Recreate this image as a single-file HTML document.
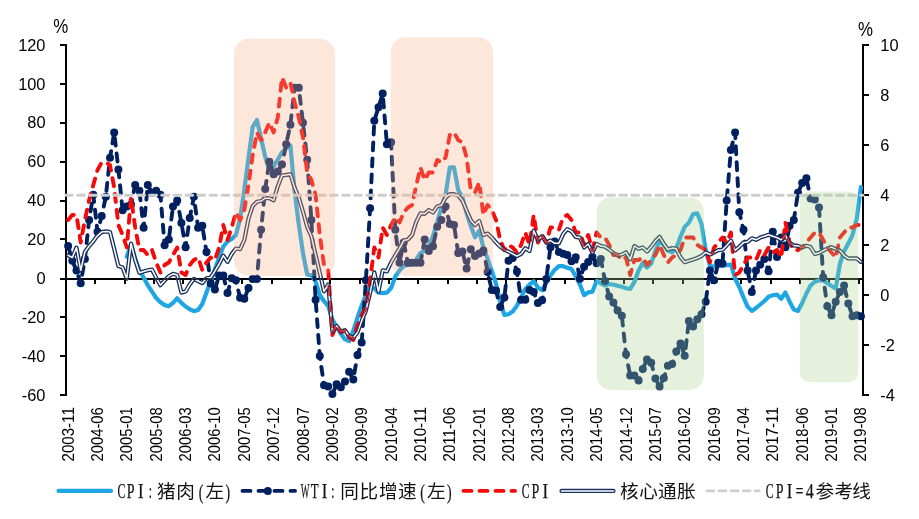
<!DOCTYPE html>
<html lang="zh"><head><meta charset="utf-8"><title>CPI / WTI chart</title>
<style>html,body{margin:0;padding:0;background:#fff}body{width:919px;height:519px;overflow:hidden;font-family:"Liberation Sans",sans-serif}svg{will-change:transform}</style></head>
<body>
<svg width="919" height="519" viewBox="0 0 919 519" style="display:block">
<rect width="919" height="519" fill="#fff"/>
<g stroke="#000" stroke-width="2" fill="none" shape-rendering="crispEdges">
<line x1="66" y1="44" x2="66" y2="396"/>
<line x1="863" y1="44" x2="863" y2="396"/>
<line x1="60" y1="279" x2="864" y2="279"/>
<line x1="60" y1="45" x2="66" y2="45"/>
<line x1="60" y1="84" x2="66" y2="84"/>
<line x1="60" y1="123" x2="66" y2="123"/>
<line x1="60" y1="162" x2="66" y2="162"/>
<line x1="60" y1="201" x2="66" y2="201"/>
<line x1="60" y1="239" x2="66" y2="239"/>
<line x1="60" y1="317" x2="66" y2="317"/>
<line x1="60" y1="356" x2="66" y2="356"/>
<line x1="60" y1="395" x2="66" y2="395"/>
<line x1="863" y1="45" x2="869" y2="45"/>
<line x1="863" y1="95" x2="869" y2="95"/>
<line x1="863" y1="145" x2="869" y2="145"/>
<line x1="863" y1="195" x2="869" y2="195"/>
<line x1="863" y1="245" x2="869" y2="245"/>
<line x1="863" y1="295" x2="869" y2="295"/>
<line x1="863" y1="345" x2="869" y2="345"/>
<line x1="863" y1="395" x2="869" y2="395"/>
<line x1="95" y1="279" x2="95" y2="284"/>
<line x1="125" y1="279" x2="125" y2="284"/>
<line x1="154" y1="279" x2="154" y2="284"/>
<line x1="183" y1="279" x2="183" y2="284"/>
<line x1="213" y1="279" x2="213" y2="284"/>
<line x1="242" y1="279" x2="242" y2="284"/>
<line x1="272" y1="279" x2="272" y2="284"/>
<line x1="301" y1="279" x2="301" y2="284"/>
<line x1="330" y1="279" x2="330" y2="284"/>
<line x1="360" y1="279" x2="360" y2="284"/>
<line x1="389" y1="279" x2="389" y2="284"/>
<line x1="418" y1="279" x2="418" y2="284"/>
<line x1="448" y1="279" x2="448" y2="284"/>
<line x1="477" y1="279" x2="477" y2="284"/>
<line x1="506" y1="279" x2="506" y2="284"/>
<line x1="536" y1="279" x2="536" y2="284"/>
<line x1="565" y1="279" x2="565" y2="284"/>
<line x1="595" y1="279" x2="595" y2="284"/>
<line x1="624" y1="279" x2="624" y2="284"/>
<line x1="653" y1="279" x2="653" y2="284"/>
<line x1="683" y1="279" x2="683" y2="284"/>
<line x1="712" y1="279" x2="712" y2="284"/>
<line x1="741" y1="279" x2="741" y2="284"/>
<line x1="771" y1="279" x2="771" y2="284"/>
<line x1="800" y1="279" x2="800" y2="284"/>
<line x1="829" y1="279" x2="829" y2="284"/>
<line x1="859" y1="279" x2="859" y2="284"/>
</g>
<g fill="none" stroke-linejoin="round">
<polyline points="126.8,256.8 131.0,244.8 135.2,258.4 139.4,270.4 143.6,277.5 147.8,285.3 152.0,291.6 156.2,298.0 160.4,302.2 164.6,305.1 168.8,306.2 173.0,302.9 177.2,298.3 181.4,302.9 185.6,306.5 189.7,309.3 193.9,311.1 198.1,310.0 202.3,304.0 206.5,292.5 210.7,281.0 214.9,269.5 219.1,257.5 223.3,246.5 227.5,241.5 231.7,239.0 235.9,235.0 240.1,219.0 244.3,190.0 248.5,158.0 252.7,127.0 256.9,120.0 261.1,138.3 265.2,156.7 269.4,170.8 273.6,166.6 277.8,159.5 282.0,152.4 286.2,148.2 290.4,145.4 294.6,191.0 298.8,224.4 303.0,253.3 307.2,274.5 311.4,275.2 315.6,281.6 319.8,295.0 324.0,301.2 328.2,306.2 332.4,319.6 336.6,326.7 340.8,333.7 345.0,339.4 349.1,341.1 353.3,330.9 357.5,317.5 361.7,305.5 365.9,294.9 370.1,286.4 374.3,288.5 378.5,292.6 382.7,293.2 386.9,292.6 391.1,288.0 395.3,276.5 399.5,270.5 403.7,266.0 407.9,265.0 412.1,264.5 416.3,259.5 420.5,253.0 424.7,250.5 428.8,247.0 433.0,236.0 437.2,222.0 441.4,207.5 445.6,194.5 449.8,167.4 454.0,167.4 458.2,190.0 462.4,197.0 466.6,213.3 470.8,226.0 475.0,237.3 479.2,231.0 483.4,247.2 487.6,259.0 491.8,271.0 496.0,283.5 500.2,301.6 504.4,315.0 508.5,314.3 512.7,311.5 516.9,305.8 521.1,297.4 525.3,288.9 529.5,284.6 533.7,281.1 537.9,287.5 542.1,290.3 546.3,282.5 550.5,275.4 554.7,269.8 558.9,266.2 563.1,266.2 567.3,267.7 571.5,269.0 575.7,276.1 579.9,284.6 584.1,295.2 588.2,292.4 592.4,291.7 596.6,281.0 600.8,283.3 605.0,285.4 609.2,284.0 613.4,284.7 617.6,285.8 621.8,286.8 626.0,288.2 630.2,289.0 634.4,281.9 638.6,270.6 642.8,263.0 647.0,267.5 651.2,263.5 655.4,250.9 659.6,241.0 663.8,245.3 667.9,250.6 672.1,252.3 676.3,248.1 680.5,236.8 684.7,226.9 688.9,222.6 693.1,214.1 697.3,213.4 701.5,224.0 705.7,250.0 709.9,266.0 714.1,266.6 718.3,265.9 722.5,265.6 726.7,265.2 730.9,264.7 735.1,278.5 739.3,287.0 743.5,297.4 747.6,306.6 751.8,310.9 756.0,308.0 760.2,304.5 764.4,301.0 768.6,296.7 772.8,295.3 777.0,294.6 781.2,298.8 785.4,292.5 789.6,301.7 793.8,309.5 798.0,310.9 802.2,303.0 806.4,293.5 810.6,285.5 814.8,281.7 819.0,280.4 823.2,280.4 827.3,283.3 831.5,286.0 835.7,288.5 839.9,264.0 844.1,251.3 848.3,243.6 852.5,235.0 856.7,219.0 860.9,187.0" stroke="#1EA6E4" stroke-width="4.2" stroke-linecap="round"/>
<polyline points="68.1,245.9 72.3,260.8 76.5,270.6 80.7,283.2 84.9,258.9 89.1,220.0 93.3,194.7 97.5,231.7 101.7,216.1 105.8,196.7 110.0,157.8 114.2,132.5 118.4,169.4 122.6,210.3 126.8,206.4 131.0,204.4 135.2,185.0 139.4,190.8 143.6,227.8 147.8,185.0 152.0,192.8 156.2,190.8 160.4,194.7 164.6,245.3 168.8,239.4 173.0,206.4 177.2,200.6 181.4,222.9 185.6,247.2 189.7,218.1 193.9,196.7 198.1,227.8 202.3,225.8 206.5,252.1 210.7,283.4 214.9,289.6 219.1,275.4 223.3,275.4 227.5,292.9 231.7,278.3 235.9,280.3 240.1,297.8 244.3,298.8 248.5,288.1 252.7,279.1 256.9,278.9 261.1,229.7 265.2,188.9 269.4,161.7 273.6,174.3 277.8,171.4 282.0,164.6 286.2,144.2 290.4,124.7 294.6,87.8 298.8,87.8 303.0,122.8 307.2,159.7 311.4,220.0 315.6,299.7 319.8,356.1 324.0,385.3 328.2,386.6 332.4,394.0 336.6,384.3 340.8,387.2 345.0,381.4 349.1,371.7 353.3,379.4 357.5,355.1 361.7,342.5 365.9,280.3 370.1,208.3 374.3,120.8 378.5,107.2 382.7,93.6 386.9,144.2 391.1,142.2 395.3,229.7 399.5,262.8 403.7,242.4 407.9,262.8 412.1,262.8 416.3,262.8 420.5,262.8 424.7,239.4 428.8,251.1 433.0,246.2 437.2,226.8 441.4,220.0 445.6,206.4 449.8,223.9 454.0,224.9 458.2,253.1 462.4,251.5 466.6,268.6 470.8,249.2 475.0,256.0 479.2,253.4 483.4,250.5 487.6,271.9 491.8,290.0 496.0,290.6 500.2,306.9 504.4,297.4 508.5,260.8 512.7,257.9 516.9,271.5 521.1,299.7 525.3,299.7 529.5,290.0 533.7,291.9 537.9,303.0 542.1,300.3 546.3,278.9 550.5,247.2 554.7,241.4 558.9,252.1 563.1,253.8 567.3,255.0 571.5,261.2 575.7,257.3 579.9,278.7 584.1,266.7 588.2,262.0 592.4,256.9 596.6,263.2 600.8,258.9 605.0,280.9 609.2,296.4 613.4,302.6 617.6,310.4 621.8,315.7 626.0,354.2 630.2,375.6 634.4,375.6 638.6,380.6 642.8,368.9 647.0,359.6 651.2,362.7 655.4,378.5 659.6,386.4 663.8,377.9 667.9,365.8 672.1,363.9 676.3,351.6 680.5,343.5 684.7,355.7 688.9,321.1 693.1,326.4 697.3,319.2 701.5,314.3 705.7,301.7 709.9,270.6 714.1,280.3 718.3,262.8 722.5,263.6 726.7,200.6 730.9,150.0 735.1,132.5 739.3,212.2 743.5,229.7 747.6,270.6 751.8,291.9 756.0,270.6 760.2,264.7 764.4,258.9 768.6,271.3 772.8,231.7 777.0,256.9 781.2,237.5 785.4,247.2 789.6,225.8 793.8,220.0 798.0,192.8 802.2,183.1 806.4,178.2 810.6,198.6 814.8,199.6 819.0,207.4 823.2,277.2 827.3,306.3 831.5,315.3 835.7,301.7 839.9,291.9 844.1,285.5 848.3,303.6 852.5,316.2 856.7,315.3 860.9,316.2" stroke="#002060" stroke-width="3.9" stroke-linecap="round" stroke-dasharray="8 8"/>
<g fill="#002060" stroke="none"><circle cx="68.1" cy="245.9" r="4.0"/><circle cx="72.3" cy="260.8" r="4.0"/><circle cx="76.5" cy="270.6" r="4.0"/><circle cx="80.7" cy="283.2" r="4.0"/><circle cx="84.9" cy="258.9" r="4.0"/><circle cx="89.1" cy="220.0" r="4.0"/><circle cx="93.3" cy="194.7" r="4.0"/><circle cx="97.5" cy="231.7" r="4.0"/><circle cx="101.7" cy="216.1" r="4.0"/><circle cx="105.8" cy="196.7" r="4.0"/><circle cx="110.0" cy="157.8" r="4.0"/><circle cx="114.2" cy="132.5" r="4.0"/><circle cx="118.4" cy="169.4" r="4.0"/><circle cx="122.6" cy="210.3" r="4.0"/><circle cx="126.8" cy="206.4" r="4.0"/><circle cx="131.0" cy="204.4" r="4.0"/><circle cx="135.2" cy="185.0" r="4.0"/><circle cx="139.4" cy="190.8" r="4.0"/><circle cx="143.6" cy="227.8" r="4.0"/><circle cx="147.8" cy="185.0" r="4.0"/><circle cx="152.0" cy="192.8" r="4.0"/><circle cx="156.2" cy="190.8" r="4.0"/><circle cx="160.4" cy="194.7" r="4.0"/><circle cx="164.6" cy="245.3" r="4.0"/><circle cx="168.8" cy="239.4" r="4.0"/><circle cx="173.0" cy="206.4" r="4.0"/><circle cx="177.2" cy="200.6" r="4.0"/><circle cx="181.4" cy="222.9" r="4.0"/><circle cx="185.6" cy="247.2" r="4.0"/><circle cx="189.7" cy="218.1" r="4.0"/><circle cx="193.9" cy="196.7" r="4.0"/><circle cx="198.1" cy="227.8" r="4.0"/><circle cx="202.3" cy="225.8" r="4.0"/><circle cx="206.5" cy="252.1" r="4.0"/><circle cx="210.7" cy="283.4" r="4.0"/><circle cx="214.9" cy="289.6" r="4.0"/><circle cx="219.1" cy="275.4" r="4.0"/><circle cx="223.3" cy="275.4" r="4.0"/><circle cx="227.5" cy="292.9" r="4.0"/><circle cx="231.7" cy="278.3" r="4.0"/><circle cx="235.9" cy="280.3" r="4.0"/><circle cx="240.1" cy="297.8" r="4.0"/><circle cx="244.3" cy="298.8" r="4.0"/><circle cx="248.5" cy="288.1" r="4.0"/><circle cx="252.7" cy="279.1" r="4.0"/><circle cx="256.9" cy="278.9" r="4.0"/><circle cx="261.1" cy="229.7" r="4.0"/><circle cx="265.2" cy="188.9" r="4.0"/><circle cx="269.4" cy="161.7" r="4.0"/><circle cx="273.6" cy="174.3" r="4.0"/><circle cx="277.8" cy="171.4" r="4.0"/><circle cx="282.0" cy="164.6" r="4.0"/><circle cx="286.2" cy="144.2" r="4.0"/><circle cx="290.4" cy="124.7" r="4.0"/><circle cx="294.6" cy="87.8" r="4.0"/><circle cx="298.8" cy="87.8" r="4.0"/><circle cx="303.0" cy="122.8" r="4.0"/><circle cx="307.2" cy="159.7" r="4.0"/><circle cx="311.4" cy="220.0" r="4.0"/><circle cx="315.6" cy="299.7" r="4.0"/><circle cx="319.8" cy="356.1" r="4.0"/><circle cx="324.0" cy="385.3" r="4.0"/><circle cx="328.2" cy="386.6" r="4.0"/><circle cx="332.4" cy="394.0" r="4.0"/><circle cx="336.6" cy="384.3" r="4.0"/><circle cx="340.8" cy="387.2" r="4.0"/><circle cx="345.0" cy="381.4" r="4.0"/><circle cx="349.1" cy="371.7" r="4.0"/><circle cx="353.3" cy="379.4" r="4.0"/><circle cx="357.5" cy="355.1" r="4.0"/><circle cx="361.7" cy="342.5" r="4.0"/><circle cx="365.9" cy="280.3" r="4.0"/><circle cx="370.1" cy="208.3" r="4.0"/><circle cx="374.3" cy="120.8" r="4.0"/><circle cx="378.5" cy="107.2" r="4.0"/><circle cx="382.7" cy="93.6" r="4.0"/><circle cx="386.9" cy="144.2" r="4.0"/><circle cx="391.1" cy="142.2" r="4.0"/><circle cx="395.3" cy="229.7" r="4.0"/><circle cx="399.5" cy="262.8" r="4.0"/><circle cx="403.7" cy="242.4" r="4.0"/><circle cx="407.9" cy="262.8" r="4.0"/><circle cx="412.1" cy="262.8" r="4.0"/><circle cx="416.3" cy="262.8" r="4.0"/><circle cx="420.5" cy="262.8" r="4.0"/><circle cx="424.7" cy="239.4" r="4.0"/><circle cx="428.8" cy="251.1" r="4.0"/><circle cx="433.0" cy="246.2" r="4.0"/><circle cx="437.2" cy="226.8" r="4.0"/><circle cx="441.4" cy="220.0" r="4.0"/><circle cx="445.6" cy="206.4" r="4.0"/><circle cx="449.8" cy="223.9" r="4.0"/><circle cx="454.0" cy="224.9" r="4.0"/><circle cx="458.2" cy="253.1" r="4.0"/><circle cx="462.4" cy="251.5" r="4.0"/><circle cx="466.6" cy="268.6" r="4.0"/><circle cx="470.8" cy="249.2" r="4.0"/><circle cx="475.0" cy="256.0" r="4.0"/><circle cx="479.2" cy="253.4" r="4.0"/><circle cx="483.4" cy="250.5" r="4.0"/><circle cx="487.6" cy="271.9" r="4.0"/><circle cx="491.8" cy="290.0" r="4.0"/><circle cx="496.0" cy="290.6" r="4.0"/><circle cx="500.2" cy="306.9" r="4.0"/><circle cx="504.4" cy="297.4" r="4.0"/><circle cx="508.5" cy="260.8" r="4.0"/><circle cx="512.7" cy="257.9" r="4.0"/><circle cx="516.9" cy="271.5" r="4.0"/><circle cx="521.1" cy="299.7" r="4.0"/><circle cx="525.3" cy="299.7" r="4.0"/><circle cx="529.5" cy="290.0" r="4.0"/><circle cx="533.7" cy="291.9" r="4.0"/><circle cx="537.9" cy="303.0" r="4.0"/><circle cx="542.1" cy="300.3" r="4.0"/><circle cx="546.3" cy="278.9" r="4.0"/><circle cx="550.5" cy="247.2" r="4.0"/><circle cx="554.7" cy="241.4" r="4.0"/><circle cx="558.9" cy="252.1" r="4.0"/><circle cx="563.1" cy="253.8" r="4.0"/><circle cx="567.3" cy="255.0" r="4.0"/><circle cx="571.5" cy="261.2" r="4.0"/><circle cx="575.7" cy="257.3" r="4.0"/><circle cx="579.9" cy="278.7" r="4.0"/><circle cx="584.1" cy="266.7" r="4.0"/><circle cx="588.2" cy="262.0" r="4.0"/><circle cx="592.4" cy="256.9" r="4.0"/><circle cx="596.6" cy="263.2" r="4.0"/><circle cx="600.8" cy="258.9" r="4.0"/><circle cx="605.0" cy="280.9" r="4.0"/><circle cx="609.2" cy="296.4" r="4.0"/><circle cx="613.4" cy="302.6" r="4.0"/><circle cx="617.6" cy="310.4" r="4.0"/><circle cx="621.8" cy="315.7" r="4.0"/><circle cx="626.0" cy="354.2" r="4.0"/><circle cx="630.2" cy="375.6" r="4.0"/><circle cx="634.4" cy="375.6" r="4.0"/><circle cx="638.6" cy="380.6" r="4.0"/><circle cx="642.8" cy="368.9" r="4.0"/><circle cx="647.0" cy="359.6" r="4.0"/><circle cx="651.2" cy="362.7" r="4.0"/><circle cx="655.4" cy="378.5" r="4.0"/><circle cx="659.6" cy="386.4" r="4.0"/><circle cx="663.8" cy="377.9" r="4.0"/><circle cx="667.9" cy="365.8" r="4.0"/><circle cx="672.1" cy="363.9" r="4.0"/><circle cx="676.3" cy="351.6" r="4.0"/><circle cx="680.5" cy="343.5" r="4.0"/><circle cx="684.7" cy="355.7" r="4.0"/><circle cx="688.9" cy="321.1" r="4.0"/><circle cx="693.1" cy="326.4" r="4.0"/><circle cx="697.3" cy="319.2" r="4.0"/><circle cx="701.5" cy="314.3" r="4.0"/><circle cx="705.7" cy="301.7" r="4.0"/><circle cx="709.9" cy="270.6" r="4.0"/><circle cx="714.1" cy="280.3" r="4.0"/><circle cx="718.3" cy="262.8" r="4.0"/><circle cx="722.5" cy="263.6" r="4.0"/><circle cx="726.7" cy="200.6" r="4.0"/><circle cx="730.9" cy="150.0" r="4.0"/><circle cx="735.1" cy="132.5" r="4.0"/><circle cx="739.3" cy="212.2" r="4.0"/><circle cx="743.5" cy="229.7" r="4.0"/><circle cx="747.6" cy="270.6" r="4.0"/><circle cx="751.8" cy="291.9" r="4.0"/><circle cx="756.0" cy="270.6" r="4.0"/><circle cx="760.2" cy="264.7" r="4.0"/><circle cx="764.4" cy="258.9" r="4.0"/><circle cx="768.6" cy="271.3" r="4.0"/><circle cx="772.8" cy="231.7" r="4.0"/><circle cx="777.0" cy="256.9" r="4.0"/><circle cx="781.2" cy="237.5" r="4.0"/><circle cx="785.4" cy="247.2" r="4.0"/><circle cx="789.6" cy="225.8" r="4.0"/><circle cx="793.8" cy="220.0" r="4.0"/><circle cx="798.0" cy="192.8" r="4.0"/><circle cx="802.2" cy="183.1" r="4.0"/><circle cx="806.4" cy="178.2" r="4.0"/><circle cx="810.6" cy="198.6" r="4.0"/><circle cx="814.8" cy="199.6" r="4.0"/><circle cx="819.0" cy="207.4" r="4.0"/><circle cx="823.2" cy="277.2" r="4.0"/><circle cx="827.3" cy="306.3" r="4.0"/><circle cx="831.5" cy="315.3" r="4.0"/><circle cx="835.7" cy="301.7" r="4.0"/><circle cx="839.9" cy="291.9" r="4.0"/><circle cx="844.1" cy="285.5" r="4.0"/><circle cx="848.3" cy="303.6" r="4.0"/><circle cx="852.5" cy="316.2" r="4.0"/><circle cx="856.7" cy="315.3" r="4.0"/><circle cx="860.9" cy="316.2" r="4.0"/></g>
<polyline points="68.1,220.0 72.3,215.0 76.5,215.0 80.7,242.5 84.9,220.0 89.1,200.0 93.3,185.0 97.5,170.0 101.7,162.5 105.8,162.5 110.0,165.0 114.2,187.5 118.4,225.0 122.6,235.0 126.8,247.5 131.0,197.5 135.2,227.5 139.4,250.0 143.6,250.0 147.8,255.0 152.0,250.0 156.2,262.5 160.4,272.5 164.6,265.0 168.8,262.5 173.0,255.0 177.2,247.5 181.4,272.5 185.6,275.0 189.7,265.0 193.9,260.0 198.1,257.5 202.3,270.0 206.5,262.5 210.7,257.5 214.9,260.0 219.1,247.5 223.3,225.0 227.5,240.0 231.7,227.5 235.9,212.5 240.1,220.0 244.3,210.0 248.5,185.0 252.7,155.0 256.9,132.5 261.1,140.0 265.2,132.5 269.4,122.5 273.6,132.5 277.8,117.5 282.0,77.5 286.2,87.5 290.4,82.5 294.6,102.5 298.8,117.5 303.0,137.5 307.2,172.5 311.4,180.0 315.6,195.0 319.8,235.0 324.0,265.0 328.2,270.0 332.4,335.0 336.6,325.0 340.8,332.5 345.0,330.0 349.1,337.5 353.3,340.0 357.5,325.0 361.7,315.0 365.9,307.5 370.1,280.0 374.3,247.5 378.5,257.5 382.7,227.5 386.9,235.0 391.1,225.0 395.3,217.5 399.5,222.5 403.7,212.5 407.9,207.5 412.1,205.0 416.3,185.0 420.5,167.5 424.7,180.0 428.8,172.5 433.0,172.5 437.2,160.0 441.4,162.5 445.6,157.5 449.8,135.0 454.0,132.5 458.2,140.0 462.4,142.5 466.6,157.5 470.8,190.0 475.0,192.5 479.2,182.5 483.4,215.0 487.6,205.0 491.8,210.0 496.0,220.0 500.2,240.0 504.4,250.0 508.5,245.0 512.7,247.5 516.9,252.5 521.1,245.0 525.3,232.5 529.5,245.0 533.7,215.0 537.9,242.5 542.1,235.0 546.3,242.5 550.5,227.5 554.7,227.5 558.9,230.0 563.1,217.5 567.3,215.0 571.5,220.0 575.7,232.5 579.9,232.5 584.1,245.0 588.2,235.0 592.4,250.0 596.6,232.5 600.8,237.5 605.0,237.5 609.2,245.0 613.4,255.0 617.6,255.0 621.8,260.0 626.0,257.5 630.2,275.0 634.4,260.0 638.6,260.0 642.8,257.5 647.0,265.0 651.2,260.0 655.4,255.0 659.6,245.0 663.8,255.0 667.9,262.5 672.1,257.5 676.3,255.0 680.5,250.0 684.7,237.5 688.9,237.5 693.1,237.5 697.3,245.0 701.5,247.5 705.7,250.0 709.9,262.5 714.1,247.5 718.3,242.5 722.5,237.5 726.7,242.5 730.9,232.5 735.1,275.0 739.3,272.5 743.5,265.0 747.6,257.5 751.8,257.5 756.0,260.0 760.2,250.0 764.4,255.0 768.6,247.5 772.8,252.5 777.0,250.0 781.2,257.5 785.4,222.5 789.6,242.5 793.8,250.0 798.0,250.0 802.2,247.5 806.4,242.5 810.6,237.5 814.8,232.5 819.0,232.5 823.2,240.0 827.3,247.5 831.5,252.5 835.7,257.5 839.9,237.5 844.1,232.5 848.3,227.5 852.5,227.5 856.7,225.0 860.9,225.0" stroke="#F60909" stroke-width="3.9" stroke-linecap="round" stroke-dasharray="8 8"/>
<polyline points="68.1,255.4 72.3,257.5 76.5,247.6 80.7,270.3 84.9,251.9 89.1,246.2 93.3,241.3 97.5,235.6 101.7,232.1 105.8,231.4 110.0,232.1 114.2,249.0 118.4,266.0 122.6,267.4 126.8,278.7 131.0,243.5 135.2,260.0 139.4,272.8 143.6,271.5 147.8,270.3 152.0,269.6 156.2,277.7 160.4,285.2 164.6,280.6 168.8,276.2 173.0,273.8 177.2,275.0 181.4,292.6 185.6,291.5 189.7,284.5 193.9,278.9 198.1,281.0 202.3,283.1 206.5,278.2 210.7,277.5 214.9,271.1 219.1,264.0 223.3,255.6 227.5,261.9 231.7,254.1 235.9,248.5 240.1,249.2 244.3,240.0 248.5,218.7 252.7,206.0 256.9,201.8 261.1,201.0 265.2,198.2 269.4,198.2 273.6,200.4 277.8,186.2 282.0,175.6 286.2,174.9 290.4,174.2 294.6,187.6 298.8,197.5 303.0,211.7 307.2,227.0 311.4,236.5 315.6,254.7 319.8,273.0 324.0,291.4 328.2,284.5 332.4,331.6 336.6,326.0 340.8,331.6 345.0,330.2 349.1,335.9 353.3,338.0 357.5,332.3 361.7,321.0 365.9,310.4 370.1,292.8 374.3,272.4 378.5,291.5 382.7,270.3 386.9,271.4 391.1,262.5 395.3,255.4 399.5,248.3 403.7,240.6 407.9,239.5 412.1,235.0 416.3,221.6 420.5,213.3 424.7,213.8 428.8,210.0 433.0,212.5 437.2,206.4 441.4,205.2 445.6,197.7 449.8,194.2 454.0,194.2 458.2,195.6 462.4,200.6 466.6,210.5 470.8,220.2 475.0,225.1 479.2,220.9 483.4,235.0 487.6,233.6 491.8,237.5 496.0,242.4 500.2,246.6 504.4,249.9 508.5,251.6 512.7,253.8 516.9,256.2 521.1,253.9 525.3,248.2 529.5,251.1 533.7,230.6 537.9,239.8 542.1,236.2 546.3,242.6 550.5,240.5 554.7,243.3 558.9,243.3 563.1,234.1 567.3,229.1 571.5,231.3 575.7,236.9 579.9,237.6 584.1,247.5 588.2,244.0 592.4,252.5 596.6,243.9 600.8,246.0 605.0,246.7 609.2,249.5 613.4,253.0 617.6,255.2 621.8,254.5 626.0,252.3 630.2,259.4 634.4,246.0 638.6,248.8 642.8,247.4 647.0,251.6 651.2,246.7 655.4,241.0 659.6,236.8 663.8,243.8 667.9,249.5 672.1,248.1 676.3,248.8 680.5,257.3 684.7,262.2 688.9,260.8 693.1,259.5 697.3,258.0 701.5,256.0 705.7,252.4 709.9,254.5 714.1,252.4 718.3,250.2 722.5,249.7 726.7,245.4 730.9,240.5 735.1,250.4 739.3,246.8 743.5,242.6 747.6,241.9 751.8,238.3 756.0,239.8 760.2,237.6 764.4,236.2 768.6,234.8 772.8,236.2 777.0,237.6 781.2,239.8 785.4,235.3 789.6,242.8 793.8,245.4 798.0,245.9 802.2,247.2 806.4,245.8 810.6,247.0 814.8,254.0 819.0,252.9 823.2,250.6 827.3,248.5 831.5,247.1 835.7,249.2 839.9,250.6 844.1,255.6 848.3,258.4 852.5,258.4 856.7,258.4 860.9,262.0" stroke="#1A305C" stroke-width="4.2" stroke-linecap="round"/>
<polyline points="68.1,255.4 72.3,257.5 76.5,247.6 80.7,270.3 84.9,251.9 89.1,246.2 93.3,241.3 97.5,235.6 101.7,232.1 105.8,231.4 110.0,232.1 114.2,249.0 118.4,266.0 122.6,267.4 126.8,278.7 131.0,243.5 135.2,260.0 139.4,272.8 143.6,271.5 147.8,270.3 152.0,269.6 156.2,277.7 160.4,285.2 164.6,280.6 168.8,276.2 173.0,273.8 177.2,275.0 181.4,292.6 185.6,291.5 189.7,284.5 193.9,278.9 198.1,281.0 202.3,283.1 206.5,278.2 210.7,277.5 214.9,271.1 219.1,264.0 223.3,255.6 227.5,261.9 231.7,254.1 235.9,248.5 240.1,249.2 244.3,240.0 248.5,218.7 252.7,206.0 256.9,201.8 261.1,201.0 265.2,198.2 269.4,198.2 273.6,200.4 277.8,186.2 282.0,175.6 286.2,174.9 290.4,174.2 294.6,187.6 298.8,197.5 303.0,211.7 307.2,227.0 311.4,236.5 315.6,254.7 319.8,273.0 324.0,291.4 328.2,284.5 332.4,331.6 336.6,326.0 340.8,331.6 345.0,330.2 349.1,335.9 353.3,338.0 357.5,332.3 361.7,321.0 365.9,310.4 370.1,292.8 374.3,272.4 378.5,291.5 382.7,270.3 386.9,271.4 391.1,262.5 395.3,255.4 399.5,248.3 403.7,240.6 407.9,239.5 412.1,235.0 416.3,221.6 420.5,213.3 424.7,213.8 428.8,210.0 433.0,212.5 437.2,206.4 441.4,205.2 445.6,197.7 449.8,194.2 454.0,194.2 458.2,195.6 462.4,200.6 466.6,210.5 470.8,220.2 475.0,225.1 479.2,220.9 483.4,235.0 487.6,233.6 491.8,237.5 496.0,242.4 500.2,246.6 504.4,249.9 508.5,251.6 512.7,253.8 516.9,256.2 521.1,253.9 525.3,248.2 529.5,251.1 533.7,230.6 537.9,239.8 542.1,236.2 546.3,242.6 550.5,240.5 554.7,243.3 558.9,243.3 563.1,234.1 567.3,229.1 571.5,231.3 575.7,236.9 579.9,237.6 584.1,247.5 588.2,244.0 592.4,252.5 596.6,243.9 600.8,246.0 605.0,246.7 609.2,249.5 613.4,253.0 617.6,255.2 621.8,254.5 626.0,252.3 630.2,259.4 634.4,246.0 638.6,248.8 642.8,247.4 647.0,251.6 651.2,246.7 655.4,241.0 659.6,236.8 663.8,243.8 667.9,249.5 672.1,248.1 676.3,248.8 680.5,257.3 684.7,262.2 688.9,260.8 693.1,259.5 697.3,258.0 701.5,256.0 705.7,252.4 709.9,254.5 714.1,252.4 718.3,250.2 722.5,249.7 726.7,245.4 730.9,240.5 735.1,250.4 739.3,246.8 743.5,242.6 747.6,241.9 751.8,238.3 756.0,239.8 760.2,237.6 764.4,236.2 768.6,234.8 772.8,236.2 777.0,237.6 781.2,239.8 785.4,235.3 789.6,242.8 793.8,245.4 798.0,245.9 802.2,247.2 806.4,245.8 810.6,247.0 814.8,254.0 819.0,252.9 823.2,250.6 827.3,248.5 831.5,247.1 835.7,249.2 839.9,250.6 844.1,255.6 848.3,258.4 852.5,258.4 856.7,258.4 860.9,262.0" stroke="#fff" stroke-width="1.5" stroke-linecap="round"/>
<mask id="cg" maskUnits="userSpaceOnUse" x="0" y="0" width="919" height="519"><polyline points="68.1,255.4 72.3,257.5 76.5,247.6 80.7,270.3 84.9,251.9 89.1,246.2 93.3,241.3 97.5,235.6 101.7,232.1 105.8,231.4 110.0,232.1 114.2,249.0 118.4,266.0 122.6,267.4 126.8,278.7 131.0,243.5 135.2,260.0 139.4,272.8 143.6,271.5 147.8,270.3 152.0,269.6 156.2,277.7 160.4,285.2 164.6,280.6 168.8,276.2 173.0,273.8 177.2,275.0 181.4,292.6 185.6,291.5 189.7,284.5 193.9,278.9 198.1,281.0 202.3,283.1 206.5,278.2 210.7,277.5 214.9,271.1 219.1,264.0 223.3,255.6 227.5,261.9 231.7,254.1 235.9,248.5 240.1,249.2 244.3,240.0 248.5,218.7 252.7,206.0 256.9,201.8 261.1,201.0 265.2,198.2 269.4,198.2 273.6,200.4 277.8,186.2 282.0,175.6 286.2,174.9 290.4,174.2 294.6,187.6 298.8,197.5 303.0,211.7 307.2,227.0 311.4,236.5 315.6,254.7 319.8,273.0 324.0,291.4 328.2,284.5 332.4,331.6 336.6,326.0 340.8,331.6 345.0,330.2 349.1,335.9 353.3,338.0 357.5,332.3 361.7,321.0 365.9,310.4 370.1,292.8 374.3,272.4 378.5,291.5 382.7,270.3 386.9,271.4 391.1,262.5 395.3,255.4 399.5,248.3 403.7,240.6 407.9,239.5 412.1,235.0 416.3,221.6 420.5,213.3 424.7,213.8 428.8,210.0 433.0,212.5 437.2,206.4 441.4,205.2 445.6,197.7 449.8,194.2 454.0,194.2 458.2,195.6 462.4,200.6 466.6,210.5 470.8,220.2 475.0,225.1 479.2,220.9 483.4,235.0 487.6,233.6 491.8,237.5 496.0,242.4 500.2,246.6 504.4,249.9 508.5,251.6 512.7,253.8 516.9,256.2 521.1,253.9 525.3,248.2 529.5,251.1 533.7,230.6 537.9,239.8 542.1,236.2 546.3,242.6 550.5,240.5 554.7,243.3 558.9,243.3 563.1,234.1 567.3,229.1 571.5,231.3 575.7,236.9 579.9,237.6 584.1,247.5 588.2,244.0 592.4,252.5 596.6,243.9 600.8,246.0 605.0,246.7 609.2,249.5 613.4,253.0 617.6,255.2 621.8,254.5 626.0,252.3 630.2,259.4 634.4,246.0 638.6,248.8 642.8,247.4 647.0,251.6 651.2,246.7 655.4,241.0 659.6,236.8 663.8,243.8 667.9,249.5 672.1,248.1 676.3,248.8 680.5,257.3 684.7,262.2 688.9,260.8 693.1,259.5 697.3,258.0 701.5,256.0 705.7,252.4 709.9,254.5 714.1,252.4 718.3,250.2 722.5,249.7 726.7,245.4 730.9,240.5 735.1,250.4 739.3,246.8 743.5,242.6 747.6,241.9 751.8,238.3 756.0,239.8 760.2,237.6 764.4,236.2 768.6,234.8 772.8,236.2 777.0,237.6 781.2,239.8 785.4,235.3 789.6,242.8 793.8,245.4 798.0,245.9 802.2,247.2 806.4,245.8 810.6,247.0 814.8,254.0 819.0,252.9 823.2,250.6 827.3,248.5 831.5,247.1 835.7,249.2 839.9,250.6 844.1,255.6 848.3,258.4 852.5,258.4 856.7,258.4 860.9,262.0" stroke="#fff" stroke-width="1.5" fill="none" stroke-linejoin="round" stroke-linecap="round"/></mask>
<g mask="url(#cg)"><g stroke="#000" stroke-width="2" fill="none" shape-rendering="crispEdges"><line x1="66" y1="44" x2="66" y2="396"/><line x1="863" y1="44" x2="863" y2="396"/><line x1="60" y1="279" x2="864" y2="279"/><line x1="60" y1="45" x2="66" y2="45"/><line x1="60" y1="84" x2="66" y2="84"/><line x1="60" y1="123" x2="66" y2="123"/><line x1="60" y1="162" x2="66" y2="162"/><line x1="60" y1="201" x2="66" y2="201"/><line x1="60" y1="239" x2="66" y2="239"/><line x1="60" y1="317" x2="66" y2="317"/><line x1="60" y1="356" x2="66" y2="356"/><line x1="60" y1="395" x2="66" y2="395"/><line x1="863" y1="45" x2="869" y2="45"/><line x1="863" y1="95" x2="869" y2="95"/><line x1="863" y1="145" x2="869" y2="145"/><line x1="863" y1="195" x2="869" y2="195"/><line x1="863" y1="245" x2="869" y2="245"/><line x1="863" y1="295" x2="869" y2="295"/><line x1="863" y1="345" x2="869" y2="345"/><line x1="863" y1="395" x2="869" y2="395"/><line x1="95" y1="279" x2="95" y2="284"/><line x1="125" y1="279" x2="125" y2="284"/><line x1="154" y1="279" x2="154" y2="284"/><line x1="183" y1="279" x2="183" y2="284"/><line x1="213" y1="279" x2="213" y2="284"/><line x1="242" y1="279" x2="242" y2="284"/><line x1="272" y1="279" x2="272" y2="284"/><line x1="301" y1="279" x2="301" y2="284"/><line x1="330" y1="279" x2="330" y2="284"/><line x1="360" y1="279" x2="360" y2="284"/><line x1="389" y1="279" x2="389" y2="284"/><line x1="418" y1="279" x2="418" y2="284"/><line x1="448" y1="279" x2="448" y2="284"/><line x1="477" y1="279" x2="477" y2="284"/><line x1="506" y1="279" x2="506" y2="284"/><line x1="536" y1="279" x2="536" y2="284"/><line x1="565" y1="279" x2="565" y2="284"/><line x1="595" y1="279" x2="595" y2="284"/><line x1="624" y1="279" x2="624" y2="284"/><line x1="653" y1="279" x2="653" y2="284"/><line x1="683" y1="279" x2="683" y2="284"/><line x1="712" y1="279" x2="712" y2="284"/><line x1="741" y1="279" x2="741" y2="284"/><line x1="771" y1="279" x2="771" y2="284"/><line x1="800" y1="279" x2="800" y2="284"/><line x1="829" y1="279" x2="829" y2="284"/><line x1="859" y1="279" x2="859" y2="284"/></g><polyline points="68.1,220.0 72.3,215.0 76.5,215.0 80.7,242.5 84.9,220.0 89.1,200.0 93.3,185.0 97.5,170.0 101.7,162.5 105.8,162.5 110.0,165.0 114.2,187.5 118.4,225.0 122.6,235.0 126.8,247.5 131.0,197.5 135.2,227.5 139.4,250.0 143.6,250.0 147.8,255.0 152.0,250.0 156.2,262.5 160.4,272.5 164.6,265.0 168.8,262.5 173.0,255.0 177.2,247.5 181.4,272.5 185.6,275.0 189.7,265.0 193.9,260.0 198.1,257.5 202.3,270.0 206.5,262.5 210.7,257.5 214.9,260.0 219.1,247.5 223.3,225.0 227.5,240.0 231.7,227.5 235.9,212.5 240.1,220.0 244.3,210.0 248.5,185.0 252.7,155.0 256.9,132.5 261.1,140.0 265.2,132.5 269.4,122.5 273.6,132.5 277.8,117.5 282.0,77.5 286.2,87.5 290.4,82.5 294.6,102.5 298.8,117.5 303.0,137.5 307.2,172.5 311.4,180.0 315.6,195.0 319.8,235.0 324.0,265.0 328.2,270.0 332.4,335.0 336.6,325.0 340.8,332.5 345.0,330.0 349.1,337.5 353.3,340.0 357.5,325.0 361.7,315.0 365.9,307.5 370.1,280.0 374.3,247.5 378.5,257.5 382.7,227.5 386.9,235.0 391.1,225.0 395.3,217.5 399.5,222.5 403.7,212.5 407.9,207.5 412.1,205.0 416.3,185.0 420.5,167.5 424.7,180.0 428.8,172.5 433.0,172.5 437.2,160.0 441.4,162.5 445.6,157.5 449.8,135.0 454.0,132.5 458.2,140.0 462.4,142.5 466.6,157.5 470.8,190.0 475.0,192.5 479.2,182.5 483.4,215.0 487.6,205.0 491.8,210.0 496.0,220.0 500.2,240.0 504.4,250.0 508.5,245.0 512.7,247.5 516.9,252.5 521.1,245.0 525.3,232.5 529.5,245.0 533.7,215.0 537.9,242.5 542.1,235.0 546.3,242.5 550.5,227.5 554.7,227.5 558.9,230.0 563.1,217.5 567.3,215.0 571.5,220.0 575.7,232.5 579.9,232.5 584.1,245.0 588.2,235.0 592.4,250.0 596.6,232.5 600.8,237.5 605.0,237.5 609.2,245.0 613.4,255.0 617.6,255.0 621.8,260.0 626.0,257.5 630.2,275.0 634.4,260.0 638.6,260.0 642.8,257.5 647.0,265.0 651.2,260.0 655.4,255.0 659.6,245.0 663.8,255.0 667.9,262.5 672.1,257.5 676.3,255.0 680.5,250.0 684.7,237.5 688.9,237.5 693.1,237.5 697.3,245.0 701.5,247.5 705.7,250.0 709.9,262.5 714.1,247.5 718.3,242.5 722.5,237.5 726.7,242.5 730.9,232.5 735.1,275.0 739.3,272.5 743.5,265.0 747.6,257.5 751.8,257.5 756.0,260.0 760.2,250.0 764.4,255.0 768.6,247.5 772.8,252.5 777.0,250.0 781.2,257.5 785.4,222.5 789.6,242.5 793.8,250.0 798.0,250.0 802.2,247.5 806.4,242.5 810.6,237.5 814.8,232.5 819.0,232.5 823.2,240.0 827.3,247.5 831.5,252.5 835.7,257.5 839.9,237.5 844.1,232.5 848.3,227.5 852.5,227.5 856.7,225.0 860.9,225.0" fill="none" stroke="#F60909" stroke-width="3.9" stroke-linecap="round" stroke-linejoin="round" stroke-dasharray="8 8"/></g>
<line x1="66" y1="195.3" x2="863" y2="195.3" stroke="#CDCDCD" stroke-width="2.9" stroke-linecap="round" stroke-dasharray="6.9 5.15" stroke-dashoffset="0.65" opacity="1"/>
</g>
<rect x="234.1" y="38.7" width="100.79999999999998" height="237.3" rx="15" fill="#F4B183" fill-opacity="0.3"/>
<rect x="390.7" y="37.2" width="102.40000000000003" height="238.8" rx="15" fill="#F4B183" fill-opacity="0.3"/>
<rect x="596.7" y="197.4" width="107.09999999999991" height="192.49999999999997" rx="14" fill="#A9D18E" fill-opacity="0.3"/>
<rect x="799.9" y="191.5" width="58.5" height="190.8" rx="10" fill="#A9D18E" fill-opacity="0.3"/>
<g font-family="Liberation Sans, sans-serif" font-size="16.4" fill="#000" text-anchor="end">
<text x="45.5" y="50.6">120</text>
<text x="45.5" y="89.5">100</text>
<text x="45.5" y="128.4">80</text>
<text x="45.5" y="167.3">60</text>
<text x="45.5" y="206.2">40</text>
<text x="45.5" y="245.0">20</text>
<text x="45.5" y="283.9">0</text>
<text x="45.5" y="322.8">-20</text>
<text x="45.5" y="361.7">-40</text>
<text x="45.5" y="400.6">-60</text>
</g>
<g font-family="Liberation Sans, sans-serif" font-size="16.4" fill="#000" text-anchor="start">
<text x="880.3" y="50.6">10</text>
<text x="880.3" y="100.6">8</text>
<text x="880.3" y="150.6">6</text>
<text x="880.3" y="200.6">4</text>
<text x="880.3" y="250.6">2</text>
<text x="880.3" y="300.6">0</text>
<text x="880.3" y="350.6">-2</text>
<text x="880.3" y="400.6">-4</text>
</g>
<text font-family="Liberation Sans, sans-serif" font-size="21" x="60.7" y="33.2" text-anchor="middle" textLength="15" lengthAdjust="spacingAndGlyphs">%</text>
<text font-family="Liberation Sans, sans-serif" font-size="21" x="865.6" y="35.6" text-anchor="middle" textLength="15" lengthAdjust="spacingAndGlyphs">%</text>
<g font-family="Liberation Sans, sans-serif" font-size="15.7" fill="#000">
<text transform="translate(73.6,461.5) rotate(-90)" textLength="54.3" lengthAdjust="spacingAndGlyphs">2003-11</text>
<text transform="translate(103.0,461.5) rotate(-90)" textLength="54.3" lengthAdjust="spacingAndGlyphs">2004-06</text>
<text transform="translate(132.3,461.5) rotate(-90)" textLength="54.3" lengthAdjust="spacingAndGlyphs">2005-01</text>
<text transform="translate(161.7,461.5) rotate(-90)" textLength="54.3" lengthAdjust="spacingAndGlyphs">2005-08</text>
<text transform="translate(191.1,461.5) rotate(-90)" textLength="54.3" lengthAdjust="spacingAndGlyphs">2006-03</text>
<text transform="translate(220.4,461.5) rotate(-90)" textLength="54.3" lengthAdjust="spacingAndGlyphs">2006-10</text>
<text transform="translate(249.8,461.5) rotate(-90)" textLength="54.3" lengthAdjust="spacingAndGlyphs">2007-05</text>
<text transform="translate(279.1,461.5) rotate(-90)" textLength="54.3" lengthAdjust="spacingAndGlyphs">2007-12</text>
<text transform="translate(308.5,461.5) rotate(-90)" textLength="54.3" lengthAdjust="spacingAndGlyphs">2008-07</text>
<text transform="translate(337.9,461.5) rotate(-90)" textLength="54.3" lengthAdjust="spacingAndGlyphs">2009-02</text>
<text transform="translate(367.2,461.5) rotate(-90)" textLength="54.3" lengthAdjust="spacingAndGlyphs">2009-09</text>
<text transform="translate(396.6,461.5) rotate(-90)" textLength="54.3" lengthAdjust="spacingAndGlyphs">2010-04</text>
<text transform="translate(426.0,461.5) rotate(-90)" textLength="54.3" lengthAdjust="spacingAndGlyphs">2010-11</text>
<text transform="translate(455.3,461.5) rotate(-90)" textLength="54.3" lengthAdjust="spacingAndGlyphs">2011-06</text>
<text transform="translate(484.7,461.5) rotate(-90)" textLength="54.3" lengthAdjust="spacingAndGlyphs">2012-01</text>
<text transform="translate(514.0,461.5) rotate(-90)" textLength="54.3" lengthAdjust="spacingAndGlyphs">2012-08</text>
<text transform="translate(543.4,461.5) rotate(-90)" textLength="54.3" lengthAdjust="spacingAndGlyphs">2013-03</text>
<text transform="translate(572.8,461.5) rotate(-90)" textLength="54.3" lengthAdjust="spacingAndGlyphs">2013-10</text>
<text transform="translate(602.1,461.5) rotate(-90)" textLength="54.3" lengthAdjust="spacingAndGlyphs">2014-05</text>
<text transform="translate(631.5,461.5) rotate(-90)" textLength="54.3" lengthAdjust="spacingAndGlyphs">2014-12</text>
<text transform="translate(660.9,461.5) rotate(-90)" textLength="54.3" lengthAdjust="spacingAndGlyphs">2015-07</text>
<text transform="translate(690.2,461.5) rotate(-90)" textLength="54.3" lengthAdjust="spacingAndGlyphs">2016-02</text>
<text transform="translate(719.6,461.5) rotate(-90)" textLength="54.3" lengthAdjust="spacingAndGlyphs">2016-09</text>
<text transform="translate(749.0,461.5) rotate(-90)" textLength="54.3" lengthAdjust="spacingAndGlyphs">2017-04</text>
<text transform="translate(778.3,461.5) rotate(-90)" textLength="54.3" lengthAdjust="spacingAndGlyphs">2017-11</text>
<text transform="translate(807.7,461.5) rotate(-90)" textLength="54.3" lengthAdjust="spacingAndGlyphs">2018-06</text>
<text transform="translate(837.0,461.5) rotate(-90)" textLength="54.3" lengthAdjust="spacingAndGlyphs">2019-01</text>
<text transform="translate(866.4,461.5) rotate(-90)" textLength="54.3" lengthAdjust="spacingAndGlyphs">2019-08</text>
</g>
<g fill="none">
<line x1="58.5" y1="490.9" x2="111" y2="490.9" stroke="#1EA6E4" stroke-width="4.2" stroke-linecap="round"/>
<line x1="242.5" y1="490.9" x2="295" y2="490.9" stroke="#002060" stroke-width="3.9" stroke-linecap="round" stroke-dasharray="8 8"/>
<circle cx="267.8" cy="490.9" r="4.0" fill="#002060"/>
<line x1="463.5" y1="490.9" x2="515" y2="490.9" stroke="#F60909" stroke-width="3.9" stroke-linecap="round" stroke-dasharray="8 8"/>
<line x1="561.5" y1="490.9" x2="613.5" y2="490.9" stroke="#1A305C" stroke-width="4.2" stroke-linecap="round"/>
<line x1="561.5" y1="490.9" x2="613.5" y2="490.9" stroke="#fff" stroke-width="1.5" stroke-linecap="round"/>
<line x1="707" y1="490.9" x2="759" y2="490.9" stroke="#CDCDCD" stroke-width="2.9" stroke-linecap="round" stroke-dasharray="6.9 5.15" opacity="1"/>
</g>
<g font-family="Liberation Serif, serif" font-size="21" fill="#111" stroke="#111" stroke-width="0.25" opacity="0.999"><text x="117.40" y="497.80" textLength="7.80" lengthAdjust="spacingAndGlyphs">C</text><text x="126.70" y="497.80" textLength="7.80" lengthAdjust="spacingAndGlyphs">P</text><text x="137.90" y="497.80" textLength="5.60" lengthAdjust="spacingAndGlyphs">I</text><text x="148.70" y="497.80" textLength="3.20" lengthAdjust="spacingAndGlyphs">:</text><text x="198.80" y="499.30" textLength="4.60" lengthAdjust="spacingAndGlyphs">(</text><text x="225.50" y="499.30" textLength="4.60" lengthAdjust="spacingAndGlyphs">)</text><text x="300.80" y="497.80" textLength="8.80" lengthAdjust="spacingAndGlyphs">W</text><text x="310.70" y="497.80" textLength="7.80" lengthAdjust="spacingAndGlyphs">T</text><text x="321.80" y="497.80" textLength="5.60" lengthAdjust="spacingAndGlyphs">I</text><text x="331.30" y="497.80" textLength="3.20" lengthAdjust="spacingAndGlyphs">:</text><text x="420.30" y="499.30" textLength="4.60" lengthAdjust="spacingAndGlyphs">(</text><text x="446.90" y="499.30" textLength="4.60" lengthAdjust="spacingAndGlyphs">)</text><text x="521.70" y="497.80" textLength="7.80" lengthAdjust="spacingAndGlyphs">C</text><text x="531.40" y="497.80" textLength="7.80" lengthAdjust="spacingAndGlyphs">P</text><text x="542.50" y="497.80" textLength="5.60" lengthAdjust="spacingAndGlyphs">I</text><text x="765.80" y="497.80" textLength="7.80" lengthAdjust="spacingAndGlyphs">C</text><text x="775.70" y="497.80" textLength="7.80" lengthAdjust="spacingAndGlyphs">P</text><text x="786.80" y="497.80" textLength="5.60" lengthAdjust="spacingAndGlyphs">I</text><text x="795.70" y="497.80" textLength="7.60" lengthAdjust="spacingAndGlyphs">=</text><text x="805.80" y="497.80" textLength="8.00" lengthAdjust="spacingAndGlyphs">4</text></g>
<g font-family="'Liberation Sans', 'Noto Sans CJK SC', sans-serif" font-size="18.6" fill="#111">
<text x="157.11 176.29" y="498.1">猪肉</text>
<text x="205.62" y="498.1">左</text>
<text x="340.28 359.41 378.90 398.03" y="498.1">同比增速</text>
<text x="427.02" y="498.1">左</text>
<text x="620.05 639.33 657.89 676.96" y="498.1">核心通胀</text>
<text x="815.43 834.60 852.31" y="498.1">参考线</text>
</g>
</svg>
</body></html>
